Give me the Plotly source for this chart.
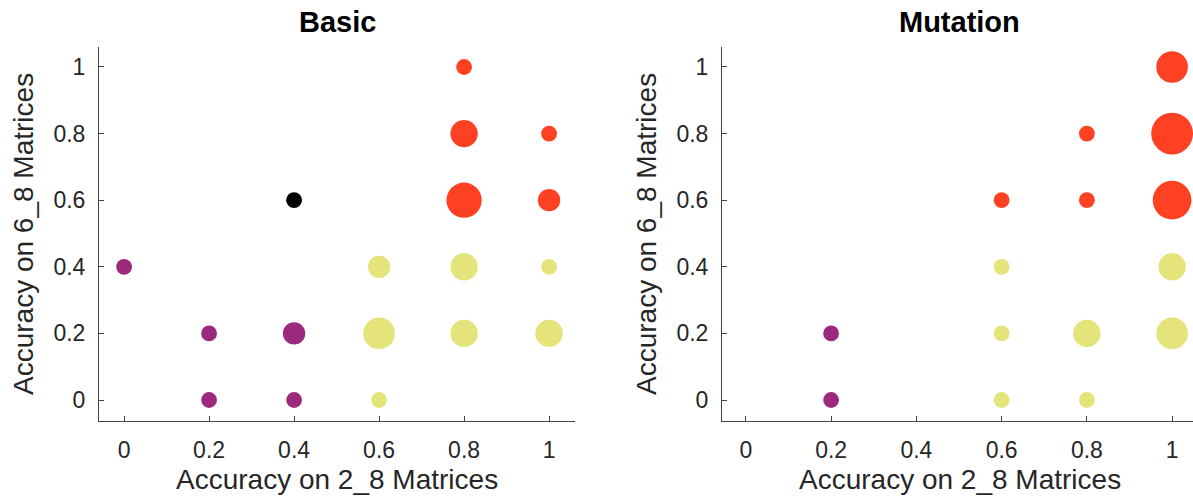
import plotly.graph_objects as go
from plotly.subplots import make_subplots
import math

# ---------------- data ----------------
tick_vals = [0, 0.2, 0.4, 0.6, 0.8, 1]
tick_text = ["0", "0.2", "0.4", "0.6", "0.8", "1"]

# Basic panel: (accuracy on 2_8, accuracy on 6_8, number of runs, group)
basic_x = [0.8, 0.8, 1.0, 0.4, 0.8, 1.0, 0.0, 0.6, 0.8, 1.0, 0.2, 0.4, 0.6, 0.8, 1.0, 0.2, 0.4, 0.6]
basic_y = [1.0, 0.8, 0.8, 0.6, 0.6, 0.6, 0.4, 0.4, 0.4, 0.4, 0.2, 0.2, 0.2, 0.2, 0.2, 0.0, 0.0, 0.0]
basic_n = [1, 3, 1, 1, 5, 2, 1, 2, 3, 1, 1, 2, 4, 3, 3, 1, 1, 1]
basic_g = ["red", "red", "red", "black", "red", "red", "purple", "yellow", "yellow", "yellow",
           "purple", "purple", "yellow", "yellow", "yellow", "purple", "purple", "yellow"]

# Mutation panel
mut_x = [1.0, 0.8, 1.0, 0.6, 0.8, 1.0, 0.6, 1.0, 0.2, 0.6, 0.8, 1.0, 0.2, 0.6, 0.8]
mut_y = [1.0, 0.8, 0.8, 0.6, 0.6, 0.6, 0.4, 0.4, 0.2, 0.2, 0.2, 0.2, 0.0, 0.0, 0.0]
mut_n = [4, 1, 7, 1, 1, 6, 1, 3, 1, 1, 3, 4, 1, 1, 1]
mut_g = ["red", "red", "red", "red", "red", "red", "yellow", "yellow", "purple", "yellow",
         "yellow", "yellow", "purple", "yellow", "yellow"]

group_colors = {"red": "#FF4123", "yellow": "#E4E47A", "purple": "#9B2A7E", "black": "#000000"}

titles = ["Basic", "Mutation"]
x_label = "Accuracy on 2_8 Matrices"
y_label = "Accuracy on 6_8 Matrices"

# ---------------- figure ----------------
W, H = 1193, 499
fig = make_subplots(rows=1, cols=2)

BASE = 15.8  # marker diameter (px) for one run; area proportional to count


def add_panel(xs, ys, ns, gs, col):
    fig.add_trace(go.Scatter(
        x=xs, y=ys, mode="markers",
        marker=dict(size=[BASE * math.sqrt(n) for n in ns],
                    color=[group_colors[g] for g in gs],
                    line=dict(width=0), opacity=1),
        showlegend=False, hoverinfo="x+y+text", text=[str(n) for n in ns],
        cliponaxis=False,
    ), row=1, col=col)


add_panel(basic_x, basic_y, basic_n, basic_g, 1)
add_panel(mut_x, mut_y, mut_n, mut_g, 2)

px = lambda v: v / W
py = lambda v: 1 - v / H

left_dom = [px(99), px(575)]
right_dom = [px(722), 1.0]
y_dom = [py(421), py(47)]

FONT = "Liberation Sans, Arial, sans-serif"
axis_common = dict(
    showline=True, linecolor="#444444", linewidth=1, mirror=False,
    ticks="inside", ticklen=5, tickcolor="#444444", tickwidth=1,
    showgrid=False, zeroline=False,
    tickvals=tick_vals, ticktext=tick_text,
    tickfont=dict(family=FONT, size=23, color="#262626"),
    ticklabelstandoff=8,
)

fig.update_layout(
    xaxis=dict(domain=left_dom, range=[-0.059, 1.061], **axis_common),
    yaxis=dict(domain=y_dom, range=[-0.063, 1.06], **axis_common),
    xaxis2=dict(domain=right_dom, range=[-0.056, 1.049], **axis_common),
    yaxis2=dict(domain=y_dom, range=[-0.063, 1.06], **axis_common),
    width=W, height=H,
    margin=dict(l=0, r=0, t=0, b=0),
    plot_bgcolor="white", paper_bgcolor="white",
    showlegend=False,
)

ann = []
font_lbl = dict(family=FONT, size=28, color="#262626")
font_ttl = dict(family=FONT, size=29, color="#000000")
panels = [(left_dom, 575), (right_dom, 1198)]
for i, (dom, right_px) in enumerate(panels):
    lx = dom[0] * W
    cx = (lx + right_px) / 2
    ann.append(dict(text="<b>%s</b>" % titles[i], x=px(cx), y=py(22), xref="paper", yref="paper",
                    showarrow=False, font=font_ttl, xanchor="center", yanchor="middle"))
    ann.append(dict(text=x_label, x=px(cx), y=py(479), xref="paper", yref="paper",
                    showarrow=False, font=font_lbl, xanchor="center", yanchor="middle"))
    ann.append(dict(text=y_label, x=px(lx - 76), y=(y_dom[0] + y_dom[1]) / 2, xref="paper", yref="paper",
                    showarrow=False, font=font_lbl, xanchor="center", yanchor="middle", textangle=-90))
fig.update_layout(annotations=ann)

fig.write_html("out.html", config={"displayModeBar": False})

# remove the browser's default page margin so the figure sits at the window origin
with open("out.html", "r", encoding="utf-8") as f:
    html = f.read()
html = html.replace("<head>", "<head><style>html,body{margin:0;padding:0;overflow:hidden;}</style>", 1)
with open("out.html", "w", encoding="utf-8") as f:
    f.write(html)
